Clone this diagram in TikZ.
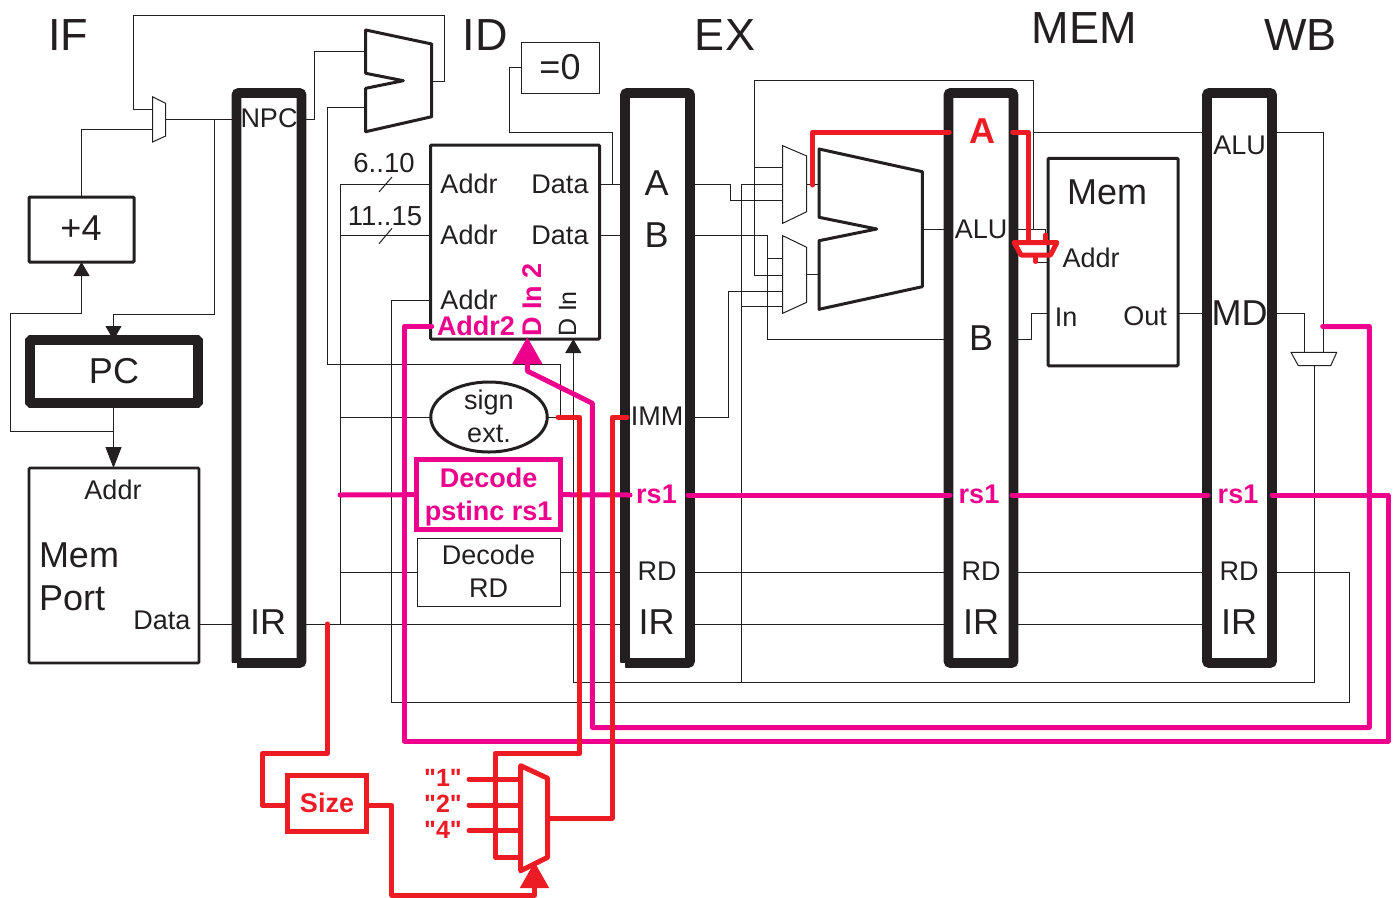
\documentclass[tikz,border=0pt]{standalone}
\usepackage{fontspec}
\setmainfont[Ligatures=TeXOff]{Liberation Sans}
\usetikzlibrary{arrows.meta,shapes.geometric}
\definecolor{ink}{HTML}{231F20}
\definecolor{pk}{HTML}{EC008C}
\definecolor{rd}{HTML}{ED1C24}
\tikzset{
  wire/.style={draw=ink,line width=1pt,line join=miter},
  pkw/.style={draw=pk,line width=5pt,line cap=round,line join=round},
  rdw/.style={draw=rd,line width=5pt,line cap=round,line join=round},
  box/.style={draw=ink,line width=3pt,inner sep=0pt,outer sep=0pt,align=center,rounded corners=1pt},
  thinbox/.style={draw=ink,line width=1pt,inner sep=0pt,outer sep=0pt,align=center},
  pipereg/.style={draw=ink,line width=9.6pt,inner sep=0pt,outer sep=0pt,minimum width=65pt,minimum height=570pt,rounded corners=2pt},
  lbl/.style={inner sep=0pt,outer sep=0pt,align=center,text=ink,font=\fontsize{27}{33}\selectfont},
  big/.style={lbl,font=\fontsize{36}{43}\selectfont},
  stage/.style={lbl,font=\fontsize{45}{50}\selectfont},
  pkl/.style={lbl,text=pk,font=\fontsize{27}{33}\selectfont\bfseries},
  rdl/.style={lbl,text=rd,font=\fontsize{27}{33}\selectfont\bfseries},
  blk/.style={-{Triangle[length=14pt,width=16pt]}},
  blkl/.style={-{Triangle[length=21pt,width=16pt]}}
}
\begin{document}
\begin{tikzpicture}[x=1pt,y=-1pt]
\useasboundingbox (0,0) rectangle (1396,897);
% ---------- boxes (positions only; thin wires end on them)
\node[pipereg] (ifid) at (269,378) {};
\node[pipereg] (idex) at (657.5,378) {};
\node[pipereg] (exmem) at (981,378) {};
\node[pipereg] (memwb) at (1239.5,378) {};
\fill[white] (231,662.7) rectangle (237,668.5);
\fill[white] (619,662.7) rectangle (625,668.5);
\node[box,minimum width=105pt,minimum height=65pt] (plus) at (81.5,229.5) {};
\node[box,line width=9.6pt,minimum width=168pt,minimum height=63pt,font=\fontsize{36}{40}\selectfont,text=ink] (pc) at (114,371.5) {PC};
\node[box,line width=2.6pt,minimum width=170pt,minimum height=195pt] (imem) at (114,565.5) {};
\node[box,minimum width=169pt,minimum height=194pt] (regs) at (515,242) {};
\node[thinbox,minimum width=78pt,minimum height=51pt,font=\fontsize{36}{40}\selectfont,text=ink] (zero) at (560,67.5) {=0};
\node[draw=ink,line width=3pt,ellipse,inner sep=0pt,outer sep=0pt,minimum width=116.5pt,minimum height=70pt] (sx) at (489,417) {};
\node[lbl] (tsx) at (489,417) {sign\\ext.\rule[-2pt]{0pt}{1pt}};
\node[thinbox,minimum width=143pt,minimum height=68pt,text=ink,font=\fontsize{27}{33}\selectfont] (drd) at (488.5,572) {Decode\\RD\rule[-2pt]{0pt}{1pt}};
\node[box,minimum width=130pt,minimum height=207.5pt] (dmem) at (1113,262) {};
% ---------- named ports
\coordinate (am1) at (365.7,51); \coordinate (am2) at (365.7,107.7); \coordinate (amo) at (431.7,81.7);
\coordinate (pa) at (152.5,109.3); \coordinate (pb) at (152.5,129); \coordinate (po) at (165.7,119.5);
\coordinate (ua) at (782.7,167.3); \coordinate (ub) at (782.7,184.3); \coordinate (uc) at (782.7,200.7); \coordinate (uo) at (806.7,184.3);
\coordinate (la) at (782.7,258.3); \coordinate (lb) at (782.7,275); \coordinate (lc) at (782.7,291.7); \coordinate (ld) at (782.7,306.7); \coordinate (lo) at (806.7,274.7);
\coordinate (alua) at (819,184.3); \coordinate (alub) at (819,274.7); \coordinate (aluo) at (922.3,229);
\coordinate (wa) at (1304.7,352.3); \coordinate (wb) at (1323.7,352.3); \coordinate (wo) at (1314,365.7);
\coordinate (da) at (1045.3,242); \coordinate (dbo) at (1035.7,256);
\coordinate (din) at (573.3,339);
% ---------- thin wires
\draw[wire] (amo) -| (444,15.7) -| (133.3,109.3) -- (pa);
\draw[wire,rounded corners=0pt] (plus.north) |- (pb);
\draw[wire] (po) -- (ifid.west |- po);
\draw[wire,blk] (214,119.5) |- (113.5,314) -- (pc.north -| 113.5,0);
\draw[wire] (ifid.east |- 0,119.5) -| (314,51) -- (am1);
\draw[wire] (am2) -| (327,364.3) -| (560,417) -- (sx.east);
\draw[wire,blkl] (113.5,403) -- (imem.north -| 113.5,0);
\draw[wire,blk] (113.5,431) -| (10,313) -| (plus.south);
\draw[wire] (imem.east |- 0,624) -- (ifid.west |- 0,624);
\draw[wire] (ifid.east |- 0,624) -- (idex.west |- 0,624);
\draw[wire] (idex.east |- 0,624) -- (exmem.west |- 0,624);
\draw[wire] (exmem.east |- 0,624) -- (memwb.west |- 0,624);
\draw[wire] (340.3,624) |- (regs.west |- 0,184);
\draw[wire] (340.3,235.7) -- (regs.west |- 0,235.7);
\draw[wire] (340.3,417) -- (sx.west);
\draw[wire] (340.3,572) -- (drd.west);
\draw[wire] (379,192) -- (392,177);
\draw[wire] (379,243.7) -- (392,228.3);
\draw[wire] (regs.west |- 0,300.3) -| (391.6,702) -| (1349,572) -- (memwb.east |- 0,572);
\draw[wire] (drd.east) -- (idex.west |- 0,572);
\draw[wire] (idex.east |- 0,572) -- (exmem.west |- 0,572);
\draw[wire] (exmem.east |- 0,572) -- (memwb.west |- 0,572);
\draw[wire] (zero.west) -| (509,132) -| (612,184);
\draw[wire] (regs.east |- 0,184) -- (idex.west |- 0,184);
\draw[wire] (regs.east |- 0,235.7) -- (idex.west |- 0,235.7);
\draw[wire] (idex.east |- 0,184.3) -| (730,200.7) -- (uc);
\draw[wire] (idex.east |- 0,235.7) -| (767.3,339) -- (exmem.west |- 0,339);
\draw[wire] (767.3,258.3) -- (la);
\draw[wire] (idex.east |- 0,417) -| (728.3,291.7) -- (lc);
\draw[wire] (idex.west |- 0,417) -- (612,417);
\draw[wire] (lb) -| (754.3,80.7) -| (1033,228.5);
\draw[wire] (754.3,167.3) -- (ua);
\draw[wire,blk] (wo) |- (573.3,682) -- (din);
\draw[wire] (741.3,682) |- (ub);
\draw[wire] (741.3,306.7) -- (ld);
\draw[wire] (uo) -- (alua);
\draw[wire] (lo) -- (alub);
\draw[wire] (aluo) -- (exmem.west |- aluo);
\draw[wire] (exmem.east |- aluo) -| (da);
\draw[wire] (dbo) |- (dmem.west |- 0,262);
\draw[wire] (1033,132) -- (memwb.west |- 0,132);
\draw[wire] (memwb.east |- 0,132) -| (wb);
\draw[wire] (memwb.east |- 0,313) -| (wa);
\draw[wire] (dmem.east |- 0,313) -- (memwb.west |- 0,313);
\draw[wire] (exmem.east |- 0,339) -| (1031,313.5) -- (dmem.west |- 0,313.5);
% ---------- muxes and adders
\draw[wire,fill=white] (152.5,96.7) -- (165.7,103.3) -- (165.7,136) -- (152.5,142) -- cycle;
\draw[wire,fill=white] (782.7,145.7) -- (806.7,156) -- (806.7,211.7) -- (782.7,223.3) -- cycle;
\draw[wire,fill=white] (782.7,235.7) -- (806.7,247.3) -- (806.7,302.3) -- (782.7,313.3) -- cycle;
\draw[wire,fill=white] (1291,352.3) -- (1336.7,352.3) -- (1330.7,365.7) -- (1298.3,365.7) -- cycle;
\draw[draw=ink,line width=3pt,line join=round] (365.7,30) -- (431.7,44) -- (431.7,116.7) -- (365.7,131.7) -- (365.7,88.3) -- (403.3,80.7) -- (365.7,73.3) -- cycle;
\draw[draw=ink,line width=3pt,line join=round] (819,149) -- (922.3,171.7) -- (922.3,286.7) -- (819,309.3) -- (819,240.7) -- (876.7,229) -- (819,217.3) -- cycle;
% ---------- text
\node[stage] (tif) at (68,35) {IF};
\node[stage] (tid) at (485,35) {ID};
\node[stage] (tex) at (725,35) {EX};
\node[stage] (tmem) at (1084,28) {MEM};
\node[stage] (twb) at (1300.5,35) {WB};
\node[lbl,font=\fontsize{36}{40}\selectfont] (tplus) at (81,228) {+4};
\node[lbl] (tnpc) at (269,118) {NPC};
\node[lbl,font=\fontsize{27.5}{33}\selectfont] (t610) at (384,163) {6..10};
\node[lbl,font=\fontsize{27.5}{33}\selectfont] (t1115) at (385,216) {11..15};
\node[lbl] (ta1) at (469,184) {Addr};
\node[lbl] (td1) at (560,184.5) {Data};
\node[lbl] (ta2) at (469,235) {Addr};
\node[lbl] (td2) at (560,235.5) {Data};
\node[lbl] (ta3) at (469,300) {Addr};
\node[pkl] (ta4) at (476,326) {Addr2};
\node[pkl,rotate=90] (tdi2) at (532,300) {D In 2};
\node[lbl,rotate=90,font=\fontsize{25}{30}\selectfont] (tdi) at (567.5,314) {D In};
\node[lbl] (tia) at (113,490) {Addr};
\node[big,align=left,anchor=west] (tport) at (39,577) {Mem\\Port};
\node[lbl] (tid2) at (162,620.5) {Data};
\node[big] (tir1) at (268,622) {IR};
\node[big] (ta) at (656.5,183) {A};
\node[big] (tb) at (656.5,235) {B};
\node[lbl] (timm) at (657,416) {IMM};
\node[pkl] (trs1) at (656.5,494.5) {rs1};
\node[lbl] (trd1) at (657,571) {RD};
\node[big] (tir2) at (656.5,622) {IR};
\node[rdl,font=\fontsize{36}{40}\selectfont\bfseries] (tra) at (982,131) {A};
\node[lbl] (talu1) at (981,229) {ALU};
\node[big] (tb2) at (981,338) {B};
\node[pkl] (trs2) at (979,494.5) {rs1};
\node[lbl] (trd2) at (981,571) {RD};
\node[big] (tir3) at (981,622) {IR};
\node[big] (tdm) at (1107,192.5) {Mem};
\node[lbl] (tda) at (1091,258) {Addr};
\node[lbl] (tdin) at (1066,317) {In};
\node[lbl] (tdout) at (1145,316) {Out};
\node[lbl] (talu2) at (1239.5,145) {ALU};
\node[big] (tmd) at (1239.5,313) {MD};
\node[pkl] (trs3) at (1238,494.5) {rs1};
\node[lbl] (trd3) at (1239,571) {RD};
\node[big] (tir4) at (1239,622) {IR};
% ---------- pink path
\node[draw=pk,line width=5pt,inner sep=0pt,outer sep=0pt,minimum width=144pt,minimum height=69.5pt,align=center,text=pk,font=\fontsize{27}{33}\selectfont\bfseries] (dec) at (488.7,494.7) {\rule{0pt}{25pt}Decode\\pstinc rs1};
\draw[pkw] (340,495) -- (dec.west);
\draw[pkw] (dec.east) -- (630,495);
\draw[pkw] (688,495) -- (950,495);
\draw[pkw] (1012,495) -- (1208,495);
\draw[pkw] (1272,495) -| (1388,741) -| (404.3,326.3) -- (431.7,326.3);
\draw[pkw,-{Triangle[length=27pt,width=29pt]}] (1322.7,326.5) -| (1369.3,727.5) -| (592.4,403.3) -- (527.3,371) -- (527.3,337);
% ---------- red path
\node[draw=rd,line width=5pt,inner sep=0pt,outer sep=0pt,minimum width=79.4pt,minimum height=56pt,text=rd,font=\fontsize{27}{33}\selectfont\bfseries] (size) at (327,803) {Size};
\coordinate (rm1) at (520.7,779); \coordinate (rm2) at (520.7,805); \coordinate (rm4) at (520.7,830.7); \coordinate (rm8) at (520.7,857); \coordinate (rmo) at (547.7,818);
\node[rdl,font=\fontsize{25}{30}\selectfont\bfseries] (q1) at (443,778) {"1"};
\node[rdl,font=\fontsize{25}{30}\selectfont\bfseries] (q2) at (443,804) {"2"};
\node[rdl,font=\fontsize{25}{30}\selectfont\bfseries] (q4) at (443,830) {"4"};
\draw[rdw] (327.3,624) |- (262.4,753.5) |- (size.west |- 0,805.5);
\draw[rdw,-{Triangle[length=26pt,width=28pt]}] (size.east |- 0,805.5) -| (391.7,895) -| (534.5,862);
\draw[rdw] (469,779) -- (rm1);
\draw[rdw] (469,805) -- (rm2);
\draw[rdw] (469,830.7) -- (rm4);
\draw[rdw] (558,417) -| (579.7,753.5) -| (495,857) -- (rm8);
\draw[rdw] (520.7,765.7) -- (547.7,778.3) -- (547.7,857.3) -- (520.7,870.7) -- cycle;
\draw[rdw] (rmo) -| (612.3,417) -- (627,417);
\draw[rdw] (949.3,132) -| (812.7,185);
\draw[rdw] (1012.7,132) -| (1028,241);
\draw[rdw] (1014,242.5) -- (1057,242.5) -- (1050.5,255) -- (1021,255) -- cycle;
\draw[rdw] (1045.7,235) -- (1045.7,241);
\draw[rdw] (1035.7,256) -- (1035.7,261.5);
\end{tikzpicture}
\end{document}
